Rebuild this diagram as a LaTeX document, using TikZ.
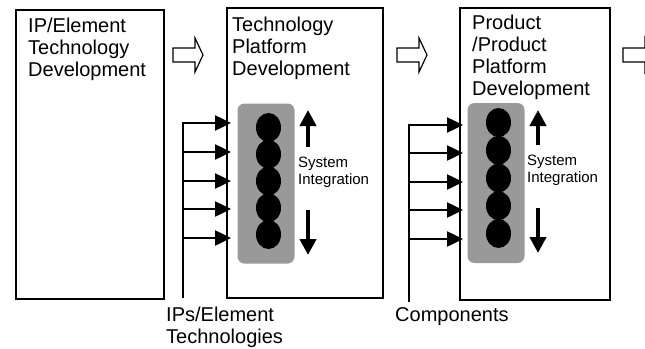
\documentclass[tikz,border=0pt]{standalone}
\usepackage{fontspec}
\setmainfont{Liberation Sans}
\usetikzlibrary{arrows.meta,shapes.geometric}

\begin{document}
\begin{tikzpicture}[x=1pt,y=-1pt]
\tikzstyle{stage} = [draw, line width=1.5pt, anchor=north west, inner sep=0]
\tikzstyle{title} = [anchor=north west, inner sep=0, align=left, font=\fontsize{20}{22}\selectfont]
\tikzstyle{note} = [anchor=north west, inner sep=0, align=left, font=\fontsize{15}{17}\selectfont]
\tikzstyle{module} = [fill=black!40, rounded corners=7pt, minimum width=57pt, minimum height=160pt, inner sep=0]
\tikzstyle{chip} = [ellipse, fill=black, minimum width=25pt, minimum height=29pt, inner sep=0]
\tikzstyle{feed} = [line width=2.5pt, -{Triangle[length=16pt,width=15pt]}]
\tikzstyle{flow} = [line width=4pt, -{Triangle[length=16pt,width=16pt]}]
\clip (0,0) rectangle (645,348);
\useasboundingbox (0,0) rectangle (645,348);

% the three stages
\node[stage, minimum width=148pt, minimum height=289pt] (ip) at (15,9) {};
\node[stage, minimum width=156pt, minimum height=290pt] (tp) at (226,7) {};
\node[stage, minimum width=150pt, minimum height=292pt] (pp) at (459,7) {};
\node[title] (iptitle) at (28,18) {IP/Element\\Technology\\Development};
\node[title] (tptitle) at (232,17) {Technology\\Platform\\Development};
\node[title] (pptitle) at (472,15) {Product\\/Product\\Platform\\Development};

% hollow arrows between stages
\foreach \x in {173,397,623}
  \draw[line width=1.2pt] (\x,48) -- ++(22,0) -- ++(0,-10) -- ++(8,17) -- ++(-8,17) -- ++(0,-10) -- ++(-22,0) -- cycle;

% integration modules
\node[module] (tpmod) at (266,183.5) {};
\node[module] (ppmod) at (496,183) {};
\foreach \i in {0,...,4} {
  \node[chip] (tpc\i) at (268.5,127.5+26.75*\i) {};
  \node[chip] (ppc\i) at (498.5,122.5+27.75*\i) {};
}
\draw[flow] (308,147) -- (308,110);
\draw[flow] (308,210) -- (308,255);
\draw[flow] (538,145) -- (538,110);
\draw[flow] (538,208) -- (538,253);
\node[note] (tpnote) at (298,157) {System\\Integration};
\node[note] (ppnote) at (527,155) {System\\Integration};

% inputs
\coordinate (tpbus) at (183,298);
\coordinate (ppbus) at (409,302);
\draw[feed, shorten >=-5pt] (tpbus) -- (183,123) -- (tp.west |- 0,123);
\foreach \y in {152,181,209,238}
  \draw[feed, shorten >=-5pt] (183,\y) -- (tp.west |- 0,\y);
\draw[feed, shorten >=-4pt] (ppbus) -- (409,125) -- (pp.west |- 0,125);
\foreach \y in {153,182,210,239}
  \draw[feed, shorten >=-4pt] (409,\y) -- (pp.west |- 0,\y);
\node[title] (iplabel) at (166,307) {IPs/Element\\Technologies};
\node[title] (complabel) at (395,307) {Components};
\end{tikzpicture}
\end{document}
